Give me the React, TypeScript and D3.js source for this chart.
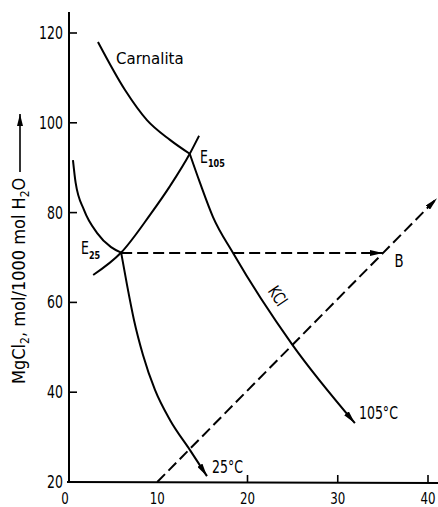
import React from 'react';
import * as d3 from 'd3';

// ---- data (x: KCl, y: MgCl2, mol/1000 mol H2O) ----
const xTickValues = [0, 10, 20, 30, 40];
const yTickValues = [20, 40, 60, 80, 100, 120];
const xInnerTicks = [20, 30, 40];
const yInnerTicks = [40, 60, 80, 100, 120];

// Carnalita saturation (105°C) ending at E105
const carnalitaCurve: [number, number][] = [
  [3.43, 118.0], [6.43, 107.3], [8.86, 100.6], [11.41, 96.2], [13.6, 93.1],
];
// carnallite branch at 25°C ending at E25
const carnalita25Curve: [number, number][] = [
  [0.66, 91.7], [0.96, 86.6], [1.88, 80.6], [3.32, 75.5], [4.88, 72.3], [6.0, 71.1],
];
// rising line through E25 and E105
const risingCurve: [number, number][] = [
  [2.9, 66.1], [6.0, 71.1], [9.2, 79.5], [11.41, 85.9], [13.6, 93.1], [14.63, 97.1],
];
// KCl isotherm 105°C
const kcl105Curve: [number, number][] = [
  [13.6, 93.1], [14.74, 86.6], [16.18, 79.0], [18.4, 71.0], [25.0, 50.5], [31.9, 33.1],
];
// KCl isotherm 25°C
const kcl25Curve: [number, number][] = [
  [6.0, 71.1], [6.65, 63.9], [7.42, 56.1], [8.42, 48.3], [9.75, 40.5], [11.41, 33.8], [13.63, 27.1], [15.51, 21.3],
];
// dashed construction lines
const horizontalDash: [number, number][] = [[6.0, 71.0], [35.0, 71.0]];
const diagonalDash: [number, number][] = [[10, 20], [41, 83.2]];

// label anchors (data units)
const carnalitaLabel: [number, number] = [5.43, 113.1];
const e25Label: [number, number] = [1.55, 70.8];
const e105Label: [number, number] = [14.74, 91.05];
const kclLabel: [number, number] = [22.8, 61.6];
const bLabel: [number, number] = [36.3, 67.9];
const t105Label: [number, number] = [32.35, 34.0];
const t25Label: [number, number] = [16.07, 22.0];

const W = 438;
const H = 507;
const FONT = "'DejaVu Sans Condensed', 'DejaVu Sans', sans-serif";
const NARROW = 0.82;

function NText({ x, y, size, anchor, children, rotate = 0 }: any) {
  return (
    <text
      transform={`translate(${x},${y}) rotate(${rotate}) scale(${NARROW},1)`}
      fontSize={size}
      textAnchor={anchor || 'start'}
    >
      {children}
    </text>
  );
}

export default function App() {
  const x = d3.scaleLinear().domain([0, 40]).range([67, 428]);
  const y = d3.scaleLinear().domain([20, 120]).range([482, 33]);
  const axisX = 69;

  const curve = d3
    .line<[number, number]>()
    .x((d) => x(d[0]))
    .y((d) => y(d[1]))
    .curve(d3.curveMonotoneX);
  const straight = d3
    .line<[number, number]>()
    .x((d) => x(d[0]))
    .y((d) => y(d[1]));

  const stroke = '#000';
  const sw = 2;

  return (
    <svg
      width={W}
      height={H}
      style={{ position: 'absolute', left: 0, top: 0, background: '#fff' }}
      fontFamily={FONT}
    >
      <defs>
        <marker
          id="arr"
          viewBox="0 0 13 6"
          refX={13}
          refY={3}
          markerWidth={13}
          markerHeight={6}
          markerUnits="userSpaceOnUse"
          orient="auto"
        >
          <path d="M0,0 L13,3 L0,6 Z" fill={stroke} />
        </marker>
        <marker
          id="arrUp"
          viewBox="0 0 6 12"
          refX={3}
          refY={0}
          markerWidth={6}
          markerHeight={12}
          markerUnits="userSpaceOnUse"
          orient="0"
        >
          <path d="M0,12 L3,0 L6,12 Z" fill={stroke} />
        </marker>
      </defs>

      {/* axes */}
      <line x1={axisX} y1={12} x2={axisX} y2={y(20)} stroke={stroke} strokeWidth={2} />
      <line x1={axisX - 2} y1={y(20)} x2={W} y2={y(20) + 1} stroke={stroke} strokeWidth={2} />
      {yInnerTicks.map((t) => (
        <line key={'yt' + t} x1={axisX} x2={axisX + 8} y1={y(t)} y2={y(t)} stroke={stroke} strokeWidth={1.6} />
      ))}
      {xInnerTicks.map((t) => (
        <line key={'xt' + t} x1={x(t)} x2={x(t)} y1={y(20) + 1} y2={y(20) - 7} stroke={stroke} strokeWidth={1.6} />
      ))}
      {yTickValues.map((t) => (
        <NText key={'yl' + t} x={63} y={y(t) + 6} size={17} anchor="end">
          {t}
        </NText>
      ))}
      {xTickValues.map((t) => (
        <NText key={'xl' + t} x={x(t) + (t === 0 ? -2 : 0)} y={504} size={16} anchor="middle">
          {t}
        </NText>
      ))}

      {/* y-axis title with arrow */}
      <text transform={`translate(25,384) rotate(-90)`} fontSize={18}>
        MgCl<tspan fontSize={12} dy={4}>2</tspan>
        <tspan dy={-4}>,  mol/1000 mol  H</tspan>
        <tspan fontSize={12} dy={4}>2</tspan>
        <tspan dy={-4}>O</tspan>
      </text>
      <line x1={20} y1={172} x2={20} y2={114} stroke={stroke} strokeWidth={1.6} markerEnd="url(#arrUp)" />

      {/* curves */}
      <path d={curve(carnalitaCurve) || ''} fill="none" stroke={stroke} strokeWidth={sw} />
      <path d={curve(carnalita25Curve) || ''} fill="none" stroke={stroke} strokeWidth={sw} />
      <path d={curve(risingCurve) || ''} fill="none" stroke={stroke} strokeWidth={sw} />
      <path d={curve(kcl105Curve) || ''} fill="none" stroke={stroke} strokeWidth={sw} markerEnd="url(#arr)" />
      <path d={curve(kcl25Curve) || ''} fill="none" stroke={stroke} strokeWidth={sw} markerEnd="url(#arr)" />

      {/* dashed construction lines */}
      <path
        d={straight(horizontalDash) || ''}
        fill="none"
        stroke={stroke}
        strokeWidth={sw}
        strokeDasharray="11 5"
        markerEnd="url(#arr)"
      />
      <path
        d={straight(diagonalDash) || ''}
        fill="none"
        stroke={stroke}
        strokeWidth={sw}
        strokeDasharray="11 5"
        markerEnd="url(#arr)"
      />

      {/* labels */}
      <text x={x(carnalitaLabel[0])} y={y(carnalitaLabel[1])} fontSize={15} fontFamily="'DejaVu Sans', sans-serif">
        Carnalita
      </text>
      <NText x={x(e25Label[0])} y={y(e25Label[1])} size={17}>
        E<tspan fontSize={11} dy={5} fontWeight="bold">25</tspan>
      </NText>
      <NText x={x(e105Label[0])} y={y(e105Label[1])} size={17}>
        E<tspan fontSize={11} dy={4} fontWeight="bold">105</tspan>
      </NText>
      <text
        transform={`translate(${x(kclLabel[0])},${y(kclLabel[1]) + 4}) rotate(56) scale(${NARROW},1)`}
        textAnchor="middle"
        fontSize={17}
      >
        KCl
      </text>
      <NText x={x(bLabel[0])} y={y(bLabel[1])} size={18}>
        B
      </NText>
      <NText x={x(t105Label[0])} y={y(t105Label[1])} size={17}>
        105°C
      </NText>
      <NText x={x(t25Label[0])} y={y(t25Label[1])} size={17}>
        25°C
      </NText>
    </svg>
  );
}
